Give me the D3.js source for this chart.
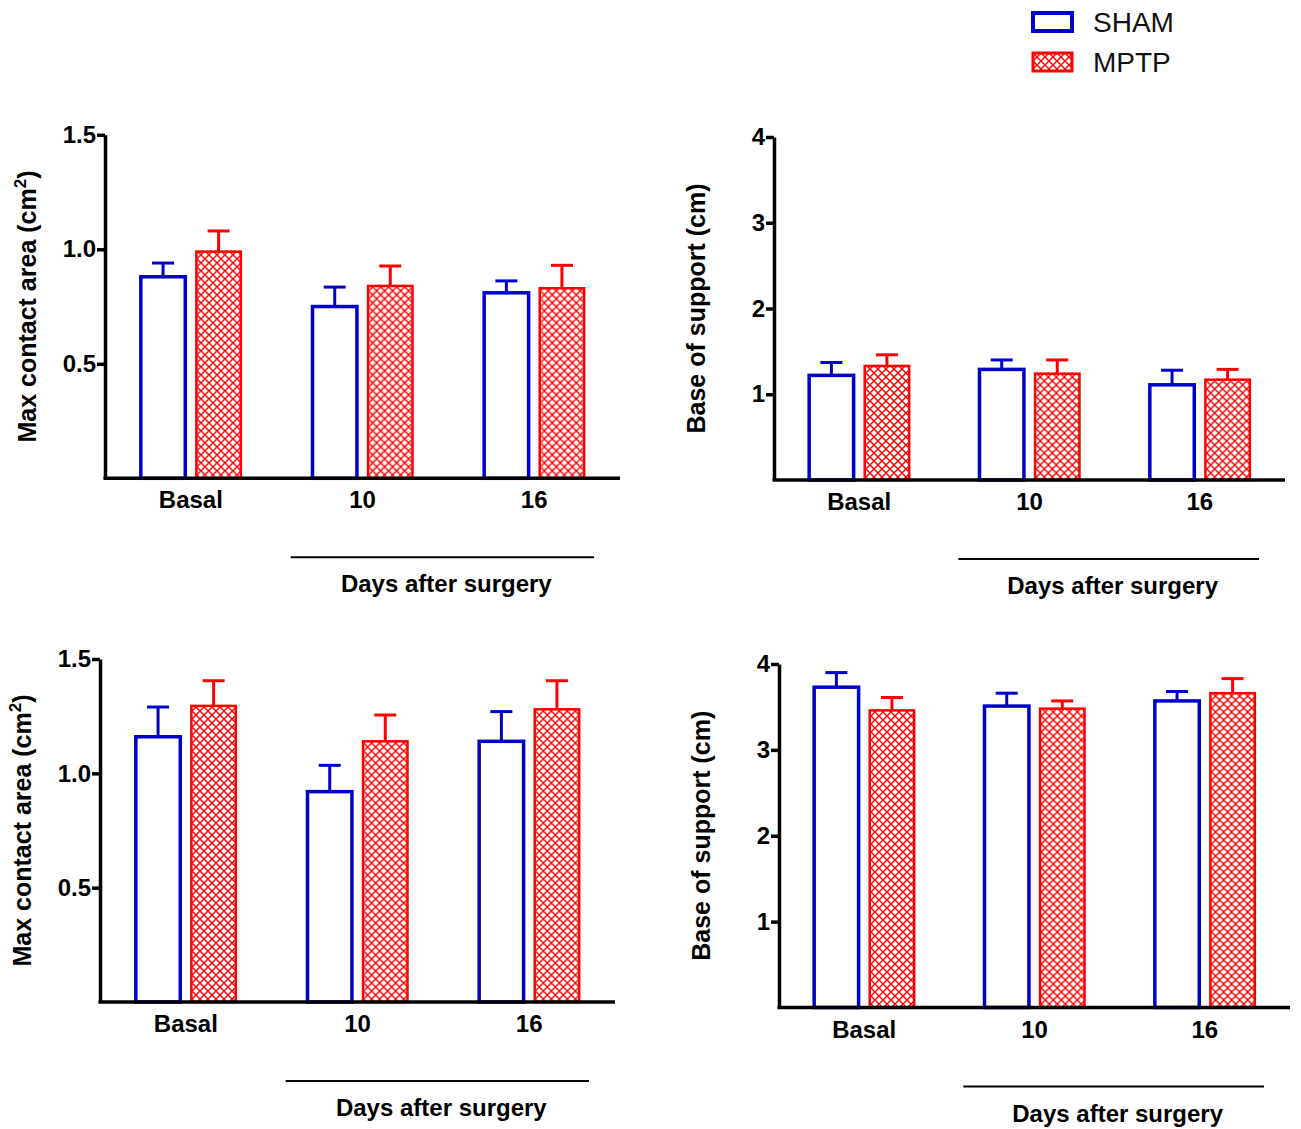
<!DOCTYPE html>
<html>
<head>
<meta charset="utf-8">
<script src="https://cdn.jsdelivr.net/npm/d3@7"></script>
<style>
  body { margin: 0; background: #fff; }
  svg text { font-family: 'Liberation Sans', Arial, sans-serif; }
</style>
</head>
<body>
<div id="chart"></div>
<script>
const categories = ['Basal', '10', '16']
const groups = ['SHAM', 'MPTP']

// top left: max contact area
const areaShamA = [0.88, 0.75, 0.81]
const areaShamErrA = [0.06, 0.085, 0.052]
const areaMptpA = [0.99, 0.84, 0.83]
const areaMptpErrA = [0.09, 0.087, 0.1]

// top right: base of support
const supportShamA = [1.22, 1.29, 1.11]
const supportShamErrA = [0.15, 0.11, 0.17]
const supportMptpA = [1.33, 1.24, 1.17]
const supportMptpErrA = [0.13, 0.16, 0.12]

// bottom left: max contact area
const areaShamB = [1.16, 0.92, 1.14]
const areaShamErrB = [0.13, 0.115, 0.13]
const areaMptpB = [1.295, 1.14, 1.28]
const areaMptpErrB = [0.11, 0.115, 0.125]

// bottom right: base of support
const supportShamB = [3.73, 3.51, 3.57]
const supportShamErrB = [0.17, 0.15, 0.11]
const supportMptpB = [3.46, 3.48, 3.66]
const supportMptpErrB = [0.15, 0.09, 0.17]

const areaTicks = [0.5, 1.0, 1.5]
const supportTicks = [1, 2, 3, 4]

const blue = '#0000cc'
const red = '#ff0000'

const svg = d3
  .select('#chart')
  .append('svg')
  .attr('width', 1301)
  .attr('height', 1129)

// crosshatch fill for the MPTP bars
const tile = 8
const pattern = svg
  .append('defs')
  .append('pattern')
  .attr('id', 'hatch')
  .attr('patternUnits', 'userSpaceOnUse')
  .attr('width', tile)
  .attr('height', tile)
pattern.append('rect').attr('width', tile).attr('height', tile).attr('fill', '#fff')
pattern
  .append('path')
  .attr('d', `M-1,-1L${tile + 1},${tile + 1}M${tile + 1},-1L-1,${tile + 1}`)
  .attr('stroke', red)
  .attr('stroke-width', 1.4)

function rows(sham, shamErr, mptp, mptpErr) {
  return categories.map((c, i) => ({
    cat: c,
    values: [
      { key: 'SHAM', value: sham[i], err: shamErr[i] },
      { key: 'MPTP', value: mptp[i], err: mptpErr[i] }
    ]
  }))
}

const panels = [
  { left: 105, right: 620, top: 134.8, bottom: 478.3, max: 1.5, ticks: areaTicks, fmt: '.1f', title: 'area',
    data: rows(areaShamA, areaShamErrA, areaMptpA, areaMptpErrA) },
  { left: 774, right: 1285, top: 137, bottom: 480, max: 4, ticks: supportTicks, fmt: 'd', title: 'support',
    data: rows(supportShamA, supportShamErrA, supportMptpA, supportMptpErrA) },
  { left: 100, right: 615, top: 659, bottom: 1002, max: 1.5, ticks: areaTicks, fmt: '.1f', title: 'area',
    data: rows(areaShamB, areaShamErrB, areaMptpB, areaMptpErrB) },
  { left: 779, right: 1290, top: 664, bottom: 1007.5, max: 4, ticks: supportTicks, fmt: 'd', title: 'support',
    data: rows(supportShamB, supportShamErrB, supportMptpB, supportMptpErrB) }
]

panels.forEach(drawPanel)

function drawPanel(p) {
  const width = p.right - p.left
  const height = p.bottom - p.top
  const g = svg.append('g').attr('transform', `translate(${p.left},${p.top})`)

  const x0 = d3.scaleBand().domain(categories).range([0, width])
  const bw = x0.bandwidth()
  const x1 = d3
    .scaleBand()
    .domain(groups)
    .range([bw / 2 - 50, bw / 2 + 50])
    .paddingInner(0.2)
  const y = d3.scaleLinear().domain([0, p.max]).range([height, 0])
  const color = d3.scaleOrdinal().domain(groups).range([blue, red])

  const cat = g
    .selectAll('.cat')
    .data(p.data)
    .enter()
    .append('g')
    .attr('class', 'cat')
    .attr('transform', d => `translate(${x0(d.cat)},0)`)

  const bar = cat
    .selectAll('.bar')
    .data(d => d.values)
    .enter()
    .append('g')
    .attr('class', 'bar')

  // error bars (upper only)
  bar
    .append('line')
    .attr('x1', d => x1(d.key) + x1.bandwidth() / 2)
    .attr('x2', d => x1(d.key) + x1.bandwidth() / 2)
    .attr('y1', d => y(d.value))
    .attr('y2', d => y(d.value + d.err))
    .attr('stroke', d => color(d.key))
    .attr('stroke-width', 3)
  bar
    .append('line')
    .attr('x1', d => x1(d.key) + x1.bandwidth() / 2 - 11)
    .attr('x2', d => x1(d.key) + x1.bandwidth() / 2 + 11)
    .attr('y1', d => y(d.value + d.err))
    .attr('y2', d => y(d.value + d.err))
    .attr('stroke', d => color(d.key))
    .attr('stroke-width', 3)

  bar
    .append('rect')
    .attr('x', d => x1(d.key))
    .attr('y', d => y(d.value))
    .attr('width', x1.bandwidth())
    .attr('height', d => height - y(d.value))
    .attr('fill', d => (d.key === 'MPTP' ? 'url(#hatch)' : '#fff'))
    .attr('stroke', d => color(d.key))
    .attr('stroke-width', d => (d.key === 'MPTP' ? 2.5 : 3.5))

  // y axis
  const yAxis = g
    .append('g')
    .call(
      d3.axisLeft(y)
        .tickValues(p.ticks)
        .tickFormat(d3.format(p.fmt))
        .tickSize(8)
        .tickSizeOuter(0)
        .tickPadding(1)
    )
  yAxis.selectAll('path, line').attr('stroke', '#000').attr('stroke-width', 3.5)
  yAxis
    .selectAll('text')
    .attr('fill', '#000')
    .style('font-size', '24px')
    .style('font-weight', 'bold')

  // x axis
  const xAxis = g
    .append('g')
    .attr('transform', `translate(0,${height})`)
    .call(d3.axisBottom(x0).tickSize(0).tickPadding(13))
  xAxis.select('.domain').attr('stroke', '#000').attr('stroke-width', 3.5).attr('d', `M-1.5,0H${width}`)
  xAxis
    .selectAll('text')
    .attr('fill', '#000')
    .style('font-size', '24px')
    .style('font-weight', 'bold')

  // "Days after surgery" bracket
  g.append('line')
    .attr('x1', x0(categories[1]) + 14)
    .attr('x2', x0(categories[2]) + bw - 26)
    .attr('y1', height + 79)
    .attr('y2', height + 79)
    .attr('stroke', '#000')
    .attr('stroke-width', 2)
  g.append('text')
    .attr('x', x0(categories[1]) + (bw * 2 - 12) / 2 + 4)
    .attr('y', height + 114)
    .attr('text-anchor', 'middle')
    .style('font-size', '24px')
    .style('font-weight', 'bold')
    .text('Days after surgery')

  // y title
  const title = g
    .append('text')
    .attr('transform', `translate(-69,${height / 2}) rotate(-90)`)
    .attr('text-anchor', 'middle')
    .style('font-size', '25px')
    .style('font-weight', 'bold')
  if (p.title === 'area') {
    title.append('tspan').text('Max contact area (cm')
    title.append('tspan').attr('dy', -10).style('font-size', '17px').text('2')
    title.append('tspan').attr('dy', 10).text(')')
  } else {
    title.text('Base of support (cm)')
  }
}

// legend
const legend = svg
  .selectAll('.legend')
  .data(groups)
  .enter()
  .append('g')
  .attr('class', 'legend')
  .attr('transform', (d, i) => `translate(1033,${13 + i * 40})`)

legend
  .append('rect')
  .attr('width', 39)
  .attr('height', 18)
  .attr('fill', d => (d === 'MPTP' ? 'url(#hatch)' : '#fff'))
  .attr('stroke', d => (d === 'MPTP' ? red : blue))
  .attr('stroke-width', d => (d === 'MPTP' ? 3 : 4))

legend
  .append('text')
  .attr('x', 60)
  .attr('y', 19)
  .style('font-size', '28px')
  .attr('fill', '#111')
  .text(d => d)
</script>
</body>
</html>
